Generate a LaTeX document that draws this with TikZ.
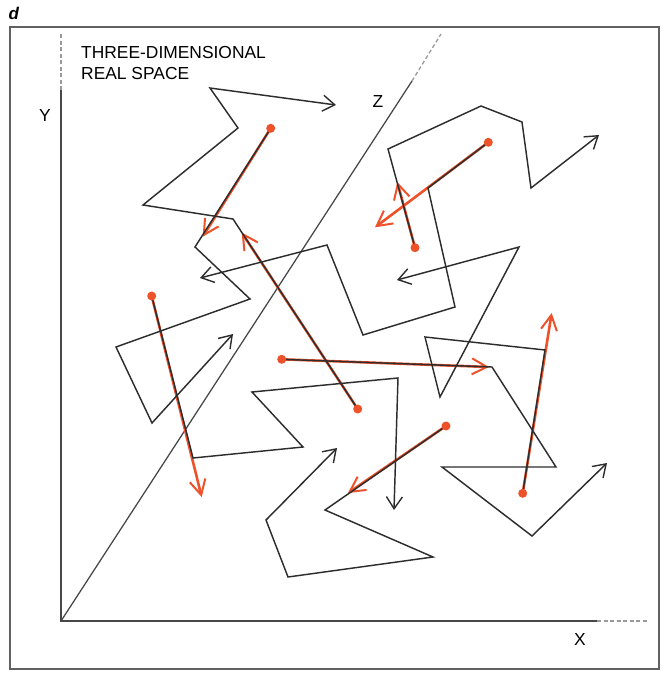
\documentclass[tikz,border=0pt]{standalone}
\usepackage{fontspec}
\setmainfont{Liberation Sans}
\usetikzlibrary{arrows.meta}
\definecolor{vred}{RGB}{238,82,42}
\definecolor{ink}{RGB}{45,45,45}
\begin{document}
\begin{tikzpicture}[x=1pt,y=-1pt,
  chainline/.style={draw=ink, line width=1.45pt, line cap=round, line join=miter,
    -{Straight Barb[length=12pt,width=16pt,line width=1.4pt]}},
  vec/.style={draw=vred, line width=2.6pt,
    -{Straight Barb[length=15pt,width=16pt,line width=2pt]}},
  dot/.style={fill=vred, circle, inner sep=0pt, minimum size=9pt},
  frame/.style={draw=black!62, line width=1.4pt},
  axis/.style={draw=black!72, line width=1.25pt},
  axisdash/.style={draw=black!40, line width=1.25pt, dash pattern=on 4pt off 2.5pt},
  lbl/.style={font=\fontsize{17.4}{21}\selectfont, inner sep=0pt, text=black}]
\useasboundingbox (0,0) rectangle (667,673);
\fill[white] (0,0) rectangle (667,673);
% frame
\draw[frame] (10,27) rectangle (659,669);
% axes
\coordinate (O) at (61,621);
\coordinate (Ys) at (61,90);
\coordinate (Yt) at (61,33);
\coordinate (Xs) at (597,621);
\coordinate (Xt) at (648,621);
\coordinate (Zs) at (412,81);
\coordinate (Zt) at (441,34);
\draw[axis] (Ys) -- (O) -- (Xs);
\draw[axis] (O) -- (Zs);
\draw[axisdash] (Ys) -- (Yt);
\draw[axisdash] (Xs) -- (Xt);
\draw[axisdash] (Zs) -- (Zt);
% labels
\node[lbl, font=\fontsize{17}{20}\selectfont\bfseries\itshape, anchor=base west] (dl) at (8.5,19.8) {d};
\node[lbl, anchor=north west, align=left] (title) at (81,46.6) {THREE-DIMENSIONAL\\REAL SPACE};
\node[lbl, anchor=base] (ylab) at (45,121) {Y};
\node[lbl, anchor=base] (xlab) at (580,645) {X};
\node[lbl, anchor=base] (zlab) at (378,107) {Z};
% chain vertices
\coordinate (a0) at (270.7,128.3); \coordinate (a1) at (195,247); \coordinate (a2) at (250,299);
\coordinate (a3) at (116,347); \coordinate (a4) at (152,423); \coordinate (a5) at (233,334);
\coordinate (ta) at (202.7,236.7);
\coordinate (b0) at (357.7,409); \coordinate (b1) at (233,219); \coordinate (b2) at (143,205);
\coordinate (b3) at (238,128); \coordinate (b4) at (210,88); \coordinate (b5) at (336,105);
\coordinate (tb) at (241.7,232.5);
\coordinate (c0) at (488.3,142.3); \coordinate (c1) at (428,188); \coordinate (c2) at (455,307);
\coordinate (c3) at (363,335); \coordinate (c4) at (327,245); \coordinate (c5) at (200,278);
\coordinate (tc) at (375,227.3);
\coordinate (d0) at (415,247.7); \coordinate (d1) at (388,149); \coordinate (d2) at (481,106);
\coordinate (d3) at (522,122); \coordinate (d4) at (531,188); \coordinate (d5) at (599,135);
\coordinate (td) at (397.3,182);
\coordinate (e0) at (522.7,493.3); \coordinate (e1) at (545,350); \coordinate (e2) at (425,337);
\coordinate (e3) at (440,397); \coordinate (e4) at (519,247); \coordinate (e5) at (397,280);
\coordinate (te) at (551.7,313);
\coordinate (f0) at (281.7,359.3); \coordinate (f1) at (492,367); \coordinate (f2) at (556,467);
\coordinate (f3) at (442,467); \coordinate (f4) at (532,536); \coordinate (f5) at (607,463);
\coordinate (tf) at (489,367);
\coordinate (g0) at (151.7,296); \coordinate (g1) at (193,458); \coordinate (g2) at (303,447);
\coordinate (g3) at (252,392); \coordinate (g4) at (398,378); \coordinate (g5) at (394,510);
\coordinate (tg) at (201.7,497);
\coordinate (h0) at (446,426); \coordinate (h1) at (325,510); \coordinate (h2) at (433,557);
\coordinate (h3) at (288,577); \coordinate (h4) at (266,520); \coordinate (h5) at (337,448);
\coordinate (th) at (348,493);
% red end vectors
\foreach \c in {a,b,c,d,e,f,g,h}{
  \draw[vec] (\c0) -- (t\c);
}
% chains
\foreach \c in {a,b,c,d,e,f,g,h}{
  \draw[chainline] (\c0) -- (\c1) -- (\c2) -- (\c3) -- (\c4) -- (\c5);
}
% start dots
\foreach \c in {a,b,c,d,e,f,g,h}{
  \node[dot] (s\c) at (\c0) {};
}
\end{tikzpicture}
\end{document}
